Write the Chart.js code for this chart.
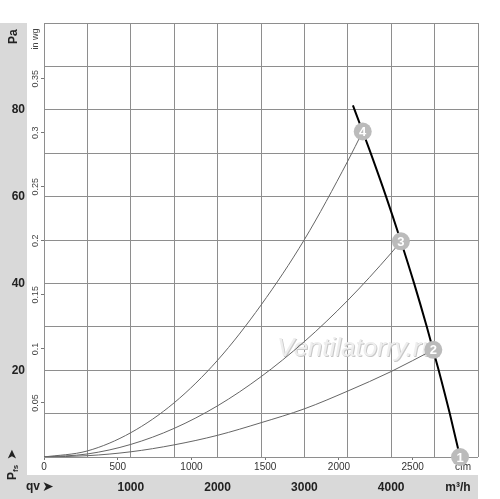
<!DOCTYPE html>
<html>
<head>
<meta charset="utf-8">
<title>Fan curve</title>
<script src="https://cdn.jsdelivr.net/npm/chart.js@4.4.1/dist/chart.umd.min.js"></script>
<style>
  html, body { margin: 0; padding: 0; background: #fff; }
  canvas { display: block; }
</style>
</head>
<body>
<canvas id="fan-chart" width="500" height="499"></canvas>
<script>
// air flow in m3/h, static pressure in Pa
const sys4Flow = [0, 500, 1000, 1500, 2000, 2500, 3000, 3500, 3672]
const sys4Pa = [0, 1.4, 5.6, 12.5, 22.3, 35.0, 50.1, 68.2, 75]
const sys3Flow = [0, 500, 1000, 1500, 2000, 2500, 3000, 3500, 4000, 4112]
const sys3Pa = [0, 0.7, 2.9, 6.6, 11.8, 18.5, 26.6, 36.1, 47.0, 49.7]
const sys2Flow = [0, 500, 1000, 1500, 2000, 2500, 3000, 3500, 4000, 4485]
const sys2Pa = [0, 0.3, 1.2, 2.8, 5.0, 7.9, 11.1, 15.2, 19.7, 24.7]
const fanFlow = [3559, 3672, 3764, 3941, 4107, 4264, 4410, 4547, 4675, 4793]
const fanPa = [81, 75, 70, 60, 50, 40, 30, 20, 10, 0]

// numbered operating points
const pointFlow = [4793, 4485, 4112, 3672]
const pointPa = [0, 24.7, 49.7, 75]
const pointLabels = ['1', '2', '3', '4']

// tick labels
const paTicks = [20, 40, 60, 80]
const inwgTicks = [0.05, 0.1, 0.15, 0.2, 0.25, 0.3, 0.35]
const cfmTicks = [0, 500, 1000, 1500, 2000, 2500]
const m3hTicks = [1000, 2000, 3000, 4000]

const M3H_PER_CFM = 1.699
const PA_PER_INWG = 249.09
const FLOW_MAX = 5000
const PA_MAX = 100
// where the unit names sit on their axes
const CFM_LABEL_AT = 2841
const M3H_LABEL_AT = 4770
const INWG_LABEL_AT = 0.3866

const FONT = "'Liberation Sans', Arial, sans-serif"
const GRID = '#8e8e8e'
const BAND = '#d9d9d9'

function toPoints(xs, ys) {
    return xs.map((x, i) => ({x: x, y: ys[i]}))
}

function fixSize(size) {
    return function (axis) {
        if (axis.isHorizontal()) axis.height = size
        else axis.width = size
    }
}

function hideAt(value, color) {
    return function (ctx) {
        return ctx.tick && ctx.tick.value === value ? 'rgba(0,0,0,0)' : color
    }
}

const bands = {
    id: 'bands',
    beforeDraw(chart) {
        const {ctx, chartArea, scales} = chart
        ctx.save()
        ctx.fillStyle = '#fff'
        ctx.fillRect(0, 0, chart.width, chart.height)
        ctx.fillStyle = BAND
        ctx.fillRect(0, chartArea.top, scales.yPa.right, chart.height - chartArea.top)
        ctx.fillRect(0, scales.xM3.top, chartArea.right, chart.height - scales.xM3.top)
        ctx.restore()
    }
}

const pointNumbers = {
    id: 'pointNumbers',
    afterDatasetsDraw(chart) {
        const ctx = chart.ctx
        const meta = chart.getDatasetMeta(4)
        ctx.save()
        ctx.fillStyle = '#ffffff'
        ctx.font = 'bold 13px ' + FONT
        ctx.textAlign = 'center'
        ctx.textBaseline = 'middle'
        meta.data.forEach((el, i) => {
            ctx.fillText(pointLabels[i], el.x, el.y + 1)
        })
        ctx.restore()
    }
}

const axisNames = {
    id: 'axisNames',
    beforeDatasetsDraw(chart) {
        const {ctx, scales} = chart
        // watermark
        ctx.save()
        ctx.font = 'italic 26px ' + FONT
        ctx.textAlign = 'center'
        ctx.textBaseline = 'middle'
        ctx.fillStyle = '#c8c8c8'
        const wx = scales.x.getPixelForValue(3600), wy = scales.y.getPixelForValue(25)
        ctx.fillText('Ventilatorry.ru', wx + 1, wy + 1)
        ctx.fillStyle = '#eeeeee'
        ctx.fillText('Ventilatorry.ru', wx, wy)
        ctx.restore()
    },
    afterDraw(chart) {
        const {ctx, chartArea, scales} = chart
        const cx = (scales.yPa.left + scales.yPa.right) / 2
        ctx.save()
        ctx.fillStyle = '#222'
        ctx.textBaseline = 'middle'
        ctx.textAlign = 'left'

        // "Pa" at the top of the left band
        ctx.save()
        ctx.translate(cx, chartArea.top + 21)
        ctx.rotate(-Math.PI / 2)
        ctx.font = 'bold 12px ' + FONT
        ctx.fillText('Pa', 0, 0)
        ctx.restore()

        // "Pfs >" at the bottom of the left band
        ctx.save()
        ctx.translate(cx - 1, chart.height - 19)
        ctx.rotate(-Math.PI / 2)
        ctx.font = 'bold 12px ' + FONT
        ctx.fillText('P', 0, 0)
        let w = ctx.measureText('P').width
        ctx.font = 'bold 8px ' + FONT
        ctx.fillText('fs', w, 3)
        w += ctx.measureText('fs').width + 5
        ctx.font = '13px ' + FONT
        ctx.fillText('\u27a4', w, 0)
        ctx.restore()

        // "qv >" in the bottom band
        const cy = (scales.xM3.top + scales.xM3.bottom) / 2
        ctx.font = 'bold 12px ' + FONT
        ctx.fillText('qv', 26, cy)
        ctx.font = '14px ' + FONT
        ctx.fillText('\u27a4', 42, cy)
        ctx.restore()
    }
}

const curveStyle = {showLine: true, pointRadius: 0, borderWidth: 1, borderColor: '#666', cubicInterpolationMode: 'monotone', fill: false}

new Chart(document.getElementById('fan-chart'), {
    type: 'scatter',
    data: {
        datasets: [
            Object.assign({label: '4', data: toPoints(sys4Flow, sys4Pa)}, curveStyle),
            Object.assign({label: '3', data: toPoints(sys3Flow, sys3Pa)}, curveStyle),
            Object.assign({label: '2', data: toPoints(sys2Flow, sys2Pa)}, curveStyle),
            {
                label: 'fan',
                data: toPoints(fanFlow, fanPa),
                showLine: true,
                pointRadius: 0,
                borderWidth: 2,
                borderColor: '#000',
                cubicInterpolationMode: 'monotone'
            },
            {
                label: 'points',
                data: toPoints(pointFlow, pointPa),
                order: -1,
                pointRadius: 9,
                pointBackgroundColor: '#bbbbbb',
                pointBorderColor: '#bbbbbb',
                pointBorderWidth: 0,
                clip: false
            }
        ]
    },
    options: {
        responsive: false,
        animation: false,
        layout: {padding: {top: 23, right: 22, left: 0, bottom: 0}},
        plugins: {
            legend: {display: false},
            tooltip: {enabled: false}
        },
        scales: {
            x: {
                type: 'linear', position: 'bottom', weight: 0,
                min: 0, max: FLOW_MAX,
                ticks: {stepSize: 500, display: false},
                grid: {color: GRID, drawTicks: false},
                border: {display: false},
                afterFit: fixSize(0)
            },
            xCfm: {
                type: 'linear', position: 'bottom', weight: 1,
                min: 0, max: FLOW_MAX / M3H_PER_CFM,
                afterBuildTicks: axis => { axis.ticks = cfmTicks.concat([CFM_LABEL_AT]).map(v => ({value: v})) },
                ticks: {
                    autoSkip: false, maxRotation: 0, padding: 1, color: '#333',
                    font: {family: FONT, size: 10},
                    callback: v => v === CFM_LABEL_AT ? 'cfm' : String(v)
                },
                grid: {drawOnChartArea: false, tickLength: 3, color: hideAt(CFM_LABEL_AT, '#777')},
                border: {display: false},
                afterFit: fixSize(18)
            },
            xM3: {
                type: 'linear', position: 'bottom', weight: 2,
                min: 0, max: FLOW_MAX,
                afterBuildTicks: axis => { axis.ticks = m3hTicks.concat([M3H_LABEL_AT]).map(v => ({value: v})) },
                ticks: {
                    autoSkip: false, maxRotation: 0, padding: 5, color: '#222',
                    font: {family: FONT, size: 12, weight: 'bold'},
                    callback: v => v === M3H_LABEL_AT ? 'm\u00b3/h' : String(v)
                },
                grid: {display: false, drawTicks: false},
                border: {display: false},
                afterFit: fixSize(24)
            },
            y: {
                type: 'linear', position: 'left', weight: 0,
                min: 0, max: PA_MAX,
                ticks: {stepSize: 10, display: false},
                grid: {color: GRID, drawTicks: false},
                border: {display: false},
                afterFit: fixSize(0)
            },
            yWg: {
                type: 'linear', position: 'left', weight: 1,
                min: 0, max: PA_MAX / PA_PER_INWG,
                afterBuildTicks: axis => { axis.ticks = inwgTicks.concat([INWG_LABEL_AT]).map(v => ({value: v})) },
                ticks: {
                    autoSkip: false, minRotation: 90, maxRotation: 90, crossAlign: 'center', padding: -5,
                    color: '#444', font: {family: FONT, size: 9},
                    callback: v => v === INWG_LABEL_AT ? 'in wg' : String(v)
                },
                grid: {drawOnChartArea: false, tickLength: 3, color: hideAt(INWG_LABEL_AT, '#777')},
                border: {display: false},
                afterFit: fixSize(17)
            },
            yPa: {
                type: 'linear', position: 'left', weight: 2,
                min: 0, max: PA_MAX,
                afterBuildTicks: axis => { axis.ticks = paTicks.map(v => ({value: v})) },
                ticks: {
                    autoSkip: false, padding: 2, color: '#222',
                    font: {family: FONT, size: 12, weight: 'bold'}
                },
                grid: {display: false, drawTicks: false},
                border: {display: false},
                afterFit: fixSize(27)
            }
        }
    },
    plugins: [bands, pointNumbers, axisNames]
})
</script>
</body>
</html>
